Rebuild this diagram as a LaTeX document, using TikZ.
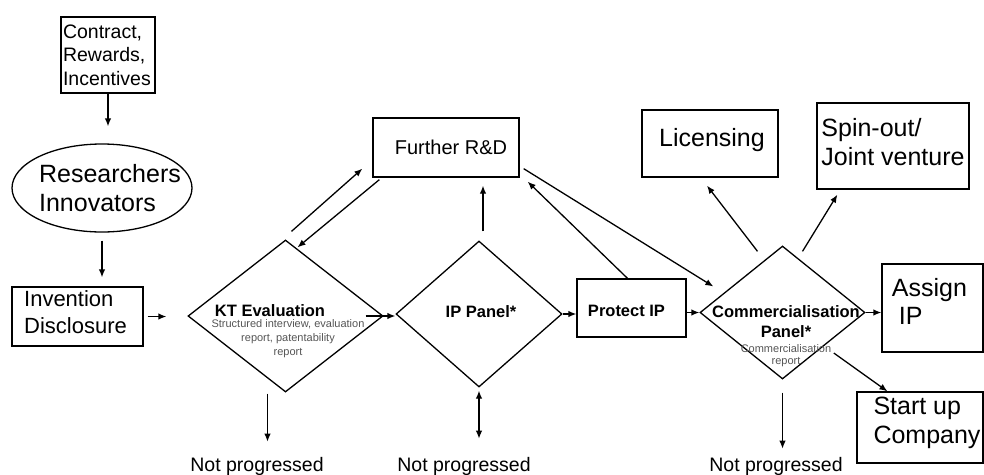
\documentclass[tikz,border=0pt]{standalone}
\usepackage{fontspec}
\setmainfont{Liberation Sans}
\usetikzlibrary{shapes.geometric, calc, arrows.meta}
\definecolor{notegray}{RGB}{85,85,85}

\begin{document}
\begin{tikzpicture}[
        x=1pt, y=-1pt, % one unit = one pixel, y grows downwards
        tip/.tip = {Latex[length=8pt, width=6.5pt]},
        box/.style = {draw, rectangle, line width=1.3pt, inner sep=0pt},
        decide/.style = {draw, diamond, line width=1.3pt, inner sep=0pt}, % decision shapes
        arr/.style = {-tip, line width=1.3pt},
        big/.style = {font=\fontsize{25}{29}\selectfont, align=left},
        head/.style = {font=\bfseries\fontsize{16.5}{20}\selectfont, align=center},
        note/.style = {font=\fontsize{11}{14}\selectfont, text=notegray, align=center},
        np/.style = {font=\fontsize{19.5}{23}\selectfont, anchor=base, inner sep=0pt},
    ]
    \useasboundingbox (0,0) rectangle (984,474);

    % left column
    \node[box, minimum width=94pt, minimum height=76pt, text width=90pt, align=left,
        font=\fontsize{19.5}{23.5}\selectfont] (contract) at (108,55) {Contract,\\Rewards,\\Incentives};
    \node[draw, ellipse, line width=1.3pt, minimum width=180pt, minimum height=88pt] (res) at (102,188) {};
    \node[big] (restext) at ($(res.center)+(8,0)$) {Researchers\\Innovators};
    \node[box, minimum width=131pt, minimum height=59pt] (inv) at (77.5,316.5) {};
    \node[align=left, font=\fontsize{22}{27}\selectfont] (invtext) at ($(inv.center)+(-2,-4)$) {Invention\\Disclosure};

    % decisions
    \node[decide, minimum width=195pt, minimum height=152pt] (kt) at (285.5,316) {};
    \node[head] (kttext) at (270,311) {KT Evaluation};
    \node[note] (ktnote) at (288,339) {Structured interview, evaluation\\report, patentability\\report};
    \node[decide, minimum width=166pt, minimum height=146pt] (ip) at (479,314) {};
    \node[head] (iptext) at (481,312) {IP Panel*};
    \node[decide, minimum width=165pt, minimum height=133pt] (comm) at (782.5,312.5) {};
    \node[head] (commtext) at (786,322) {Commercialisation\\Panel*};
    \node[note, font=\fontsize{11}{12}\selectfont] (commnote) at (786,356) {Commercialisation\\report};

    % boxes
    \node[box, minimum width=146pt, minimum height=59pt] (frd) at (446,147.5) {};
    \node[font=\fontsize{20}{24}\selectfont] (frdtext) at ($(frd.center)+(5,0)$) {Further R\&D};
    \node[box, minimum width=109pt, minimum height=58pt] (prot) at (631.5,308) {};
    \node[head] (prottext) at ($(prot.center)+(-5,3)$) {Protect IP};
    \node[box, minimum width=136pt, minimum height=67pt] (lic) at (710,143.5) {};
    \node[big] (lictext) at ($(lic.center)+(2,-3)$) {Licensing};
    \node[box, minimum width=152pt, minimum height=86pt] (spin) at (893,146) {};
    \node[big] (spintext) at ($(spin.center)+(0,-4)$) {Spin-out/\\Joint venture};
    \node[box, minimum width=101pt, minimum height=88pt] (assign) at (932.5,308) {};
    \node[big, font=\fontsize{25}{28}\selectfont] (assigntext) at ($(assign.center)+(-3,-7)$) {Assign\\\hspace*{7pt}IP};
    \node[box, minimum width=126pt, minimum height=71pt] (start) at (920,427.5) {};
    \node[big] (starttext) at ($(start.center)+(7,-5)$) {Start up\\Company};

    % not progressed
    \node[np] (np1) at (257,471) {Not progressed};
    \node[np] (np2) at (464,471) {Not progressed};
    \node[np] (np3) at (776,471) {Not progressed};

    % connectors
    \draw[arr, shorten >=17pt] (contract.south) -- (contract.south |- res.north);
    \draw[arr, shorten <=8pt, shorten >=9pt] (res.south) -- (res.south |- inv.north);
    \draw[arr, shorten <=4pt, shorten >=21pt] (inv.east) -- (inv.east -| kt.west);
    \draw[arr, shorten <=-18pt] (kt.east) -- (kt.east -| ip.west);
    \draw[arr] (ip.east) -- (ip.east -| prot.west);
    \draw[arr] (prot.east |- comm.west) -- (comm.west);
    \draw[arr] (comm.east) -- (comm.east -| assign.west);
    \draw[arr, shorten <=12pt] (comm.south east) -- (start.132);
    \draw[arr] ($(comm.north)+(-25,6)$) -- ($(lic.south)+(-3,8)$);
    \draw[arr] ($(comm.north)+(20,6)$) -- ($(spin.south west)+(21,5)$);
    \draw[arr] ($(ip.north)+(4,-9)$) -- ($(frd.south)+(37,8)$);
    \draw[arr] ($(kt.north)+(6,-8)$) -- ($(frd.south west)+(-10,-9)$);
    \draw[arr] ($(frd.south west)+(7,2)$) -- ($(kt.north)+(12,8)$);
    \draw[arr] ($(prot.north)+(-4,0)$) -- ($(frd.south east)+(8,4)$);
    \draw[arr] ($(frd.south east)+(4,-9)$) -- ($(comm.west)+(14,-26)$);

    % down to "not progressed"
    \coordinate (ktdown) at ($(kt.south)+(-18,1)$);
    \draw[arr, shorten >=15pt] (ktdown) -- (ktdown |- np1.north);
    \draw[arr, tip-tip, shorten <=3pt, shorten >=18pt] (ip.south) -- (ip.south |- np2.north);
    \draw[arr, shorten <=13pt, shorten >=8pt] (comm.south) -- (comm.south |- np3.north);
\end{tikzpicture}
\end{document}
